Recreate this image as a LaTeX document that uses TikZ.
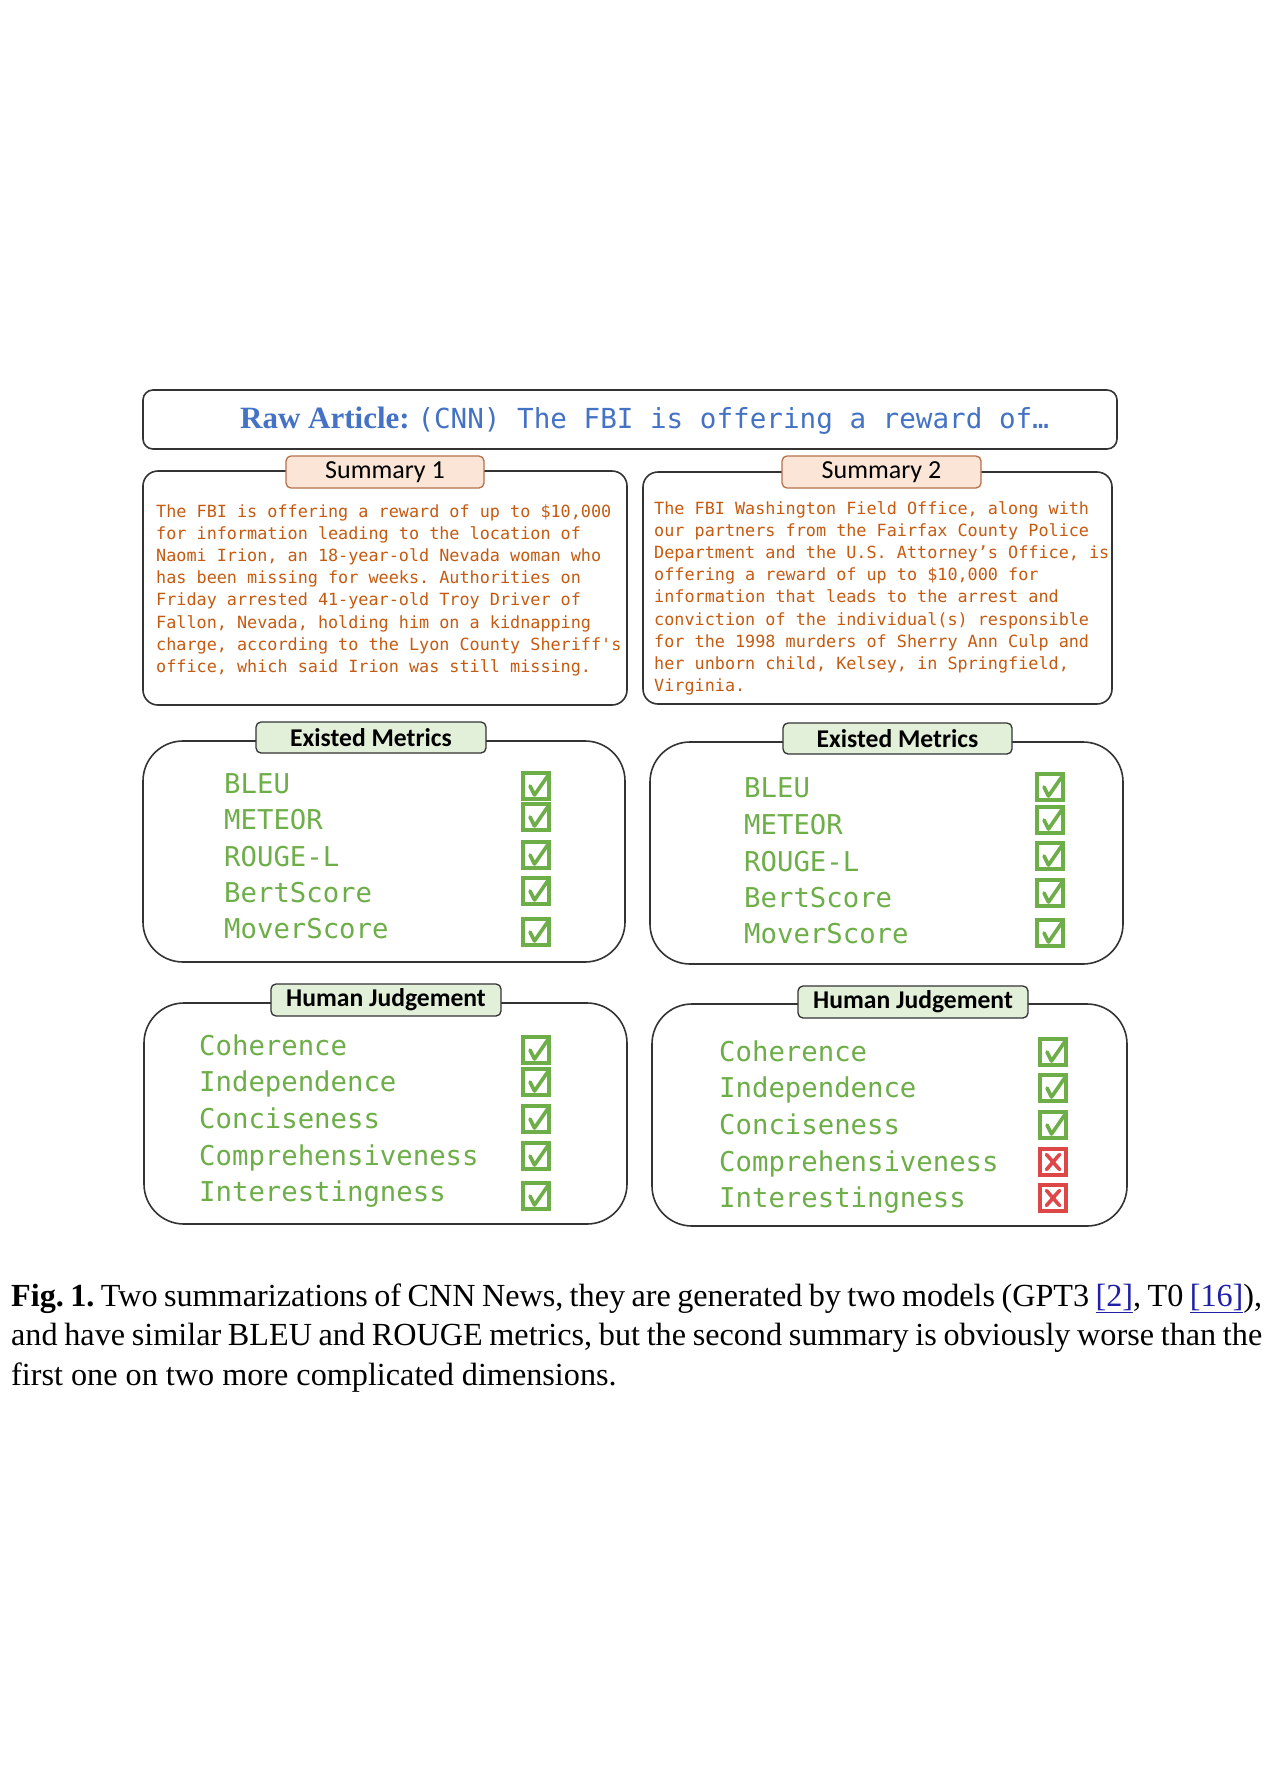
\documentclass[tikz,border=0pt]{standalone}
\usepackage{fontspec}
\setmainfont{Liberation Serif}
\newfontfamily\monof{DejaVu Sans Mono}[Ligatures=TeXOff]
\newfontfamily\tabfont{Carlito}
\usetikzlibrary{calc}
\definecolor{txtorange}{HTML}{C55A11}
\definecolor{okgreen}{HTML}{6DAE48}
\definecolor{titleblue}{HTML}{4472C4}
\definecolor{badred}{HTML}{DE4747}
\definecolor{peach}{HTML}{FBE5D6}
\definecolor{peachline}{HTML}{B4714A}
\definecolor{mint}{HTML}{E2F0D9}
\definecolor{frame}{HTML}{333333}
\definecolor{linkblue}{HTML}{1F1FA8}
\newcommand\lnk[1]{\textcolor{linkblue}{\underline{#1}}}
\newcommand\normspaces{\spaceskip=0pt \xspaceskip=0pt\relax}
\frenchspacing
\begin{document}
\begin{tikzpicture}[x=1pt,y=-1pt,
  panel/.style={draw=frame, line width=1.6pt, rounded corners=#1, inner sep=0pt, fill=white},
  tabA/.style={draw=peachline, fill=peach, line width=1.3pt, rounded corners=5pt, inner sep=0pt,
    font=\tabfont\fontsize{26}{26}\selectfont},
  tabB/.style={draw=frame, fill=mint, line width=1.3pt, rounded corners=5pt, inner sep=0pt,
    font=\tabfont\bfseries\fontsize{25.6}{25.6}\selectfont},
  sumtext/.style={anchor=base west, inner sep=0pt, text width=600pt, align=left,
    text=txtorange, font=\monof\fontsize{16.8}{22.2}\selectfont},
  item/.style={anchor=base west, inner sep=0pt, text=okgreen, font=\monof\fontsize{27.3}{27.3}\selectfont},
  chkbox/.style={draw=okgreen, line width=3.2pt, minimum size=26pt, inner sep=0pt},
  xbox/.style={draw=badred, line width=3.2pt, minimum size=26pt, inner sep=0pt},
  chkmark/.style={draw=okgreen, line width=3.6pt, line cap=round, line join=round},
  xmark/.style={draw=badred, line width=3.6pt, line cap=round}
]
\fill[white] (0,0) rectangle (1278,1782);
\useasboundingbox (0,0) rectangle (1278,1782);

% raw article
\node[panel=10pt, minimum width=974pt, minimum height=59pt] (raw) at (630,419.5) {};
\node[anchor=base west, inner sep=0pt, text=titleblue] (rawtxt) at (240,428)
  {{\fontsize{31}{31}\selectfont\bfseries Raw Article: }{\monof\fontsize{27.6}{27.6}\selectfont (CNN) The FBI is offering a reward of…}};

% summaries
\node[panel=15pt, minimum width=484pt, minimum height=234pt] (s1) at (385,588) {};
\node[tabA, minimum width=198pt, minimum height=32pt] (s1tab) at (385,472) {Summary 1};
\node[sumtext] (s1txt) at (156,517) {\normspaces The FBI is offering a reward of up to \$10,000\\
for information leading to the location of\\
Naomi Irion, an 18-year-old Nevada woman who\\
has been missing for weeks. Authorities on\\
Friday arrested 41-year-old Troy Driver of\\
Fallon, Nevada, holding him on a kidnapping\\
charge, according to the Lyon County Sheriff's\\
office, which said Irion was still missing.};

\node[panel=15pt, minimum width=469pt, minimum height=232pt] (s2) at (877.5,588) {};
\node[tabA, minimum width=199pt, minimum height=32pt] (s2tab) at (881.5,472) {Summary 2};
\node[sumtext] (s2txt) at (654,514) {\normspaces The FBI Washington Field Office, along with\\
our partners from the Fairfax County Police\\
Department and the U.S. Attorney’s Office, is\\
offering a reward of up to \$10,000 for\\
information that leads to the arrest and\\
conviction of the individual(s) responsible\\
for the 1998 murders of Sherry Ann Culp and\\
her unborn child, Kelsey, in Springfield,\\
Virginia.};

% existed metrics
\node[panel=40pt, minimum width=482pt, minimum height=221pt] (ml) at (384,851.5) {};
\node[tabB, minimum width=230pt, minimum height=31pt] (mltab) at (371,737.5) {Existed Metrics};
\node[panel=40pt, minimum width=473pt, minimum height=222pt] (mr) at (886.5,853) {};
\node[tabB, minimum width=229pt, minimum height=31pt] (mrtab) at (897.5,738.5) {Existed Metrics};

\foreach \t/\yb/\yc [count=\i] in {BLEU/793/786, METEOR/829/817, ROUGE-L/866/855, BertScore/902/891, MoverScore/938/932} {
  \node[item] (mlt\i) at (224,\yb) {\t};
  \node[chkbox] (mlc\i) at (536,\yc) {};
  \draw[chkmark] ($(mlc\i)+(-6,0)$) -- ($(mlc\i)+(-1.5,9)$) -- ($(mlc\i)+(13,-12)$);
}
\foreach \t/\yb/\yc [count=\i] in {BLEU/797/787, METEOR/834/820, ROUGE-L/871/856, BertScore/907/893, MoverScore/943/933} {
  \node[item] (mrt\i) at (744,\yb) {\t};
  \node[chkbox] (mrc\i) at (1050,\yc) {};
  \draw[chkmark] ($(mrc\i)+(-6,0)$) -- ($(mrc\i)+(-1.5,9)$) -- ($(mrc\i)+(13,-12)$);
}

% human judgement
\node[panel=40pt, minimum width=483pt, minimum height=221pt] (hl) at (385.5,1113.5) {};
\node[tabB, minimum width=230pt, minimum height=32pt] (hltab) at (386,1000) {Human Judgement};
\node[panel=40pt, minimum width=475pt, minimum height=222pt] (hr) at (889.5,1115) {};
\node[tabB, minimum width=230pt, minimum height=32pt] (hrtab) at (913,1002) {Human Judgement};

\foreach \t/\yb/\yc [count=\i] in {Coherence/1055/1050, Independence/1091/1082, Conciseness/1128/1119, Comprehensiveness/1165/1156, Interestingness/1201/1196} {
  \node[item] (hlt\i) at (199,\yb) {\t};
  \node[chkbox] (hlc\i) at (536,\yc) {};
  \draw[chkmark] ($(hlc\i)+(-6,0)$) -- ($(hlc\i)+(-1.5,9)$) -- ($(hlc\i)+(13,-12)$);
}
\foreach \t/\yb/\yc [count=\i] in {Coherence/1061/1052, Independence/1097/1088, Conciseness/1134/1125} {
  \node[item] (hrt\i) at (719,\yb) {\t};
  \node[chkbox] (hrc\i) at (1053,\yc) {};
  \draw[chkmark] ($(hrc\i)+(-6,0)$) -- ($(hrc\i)+(-1.5,9)$) -- ($(hrc\i)+(13,-12)$);
}
\foreach \t/\yb/\yc [count=\i from 4] in {Comprehensiveness/1171/1162, Interestingness/1207/1198} {
  \node[item] (hrt\i) at (719,\yb) {\t};
  \node[xbox] (hrc\i) at (1053,\yc) {};
  \draw[xmark] ($(hrc\i)+(-6.5,-7.5)$) -- ($(hrc\i)+(6.5,7.5)$)
               ($(hrc\i)+(6.5,-7.5)$) -- ($(hrc\i)+(-6.5,7.5)$);
}

% caption
\node[anchor=base west, inner sep=0pt, text width=1251pt, align=justify,
  font=\fontsize{32.2}{39.5}\selectfont] (cap) at (11,1306)
  {\textbf{Fig. 1.} Two summarizations of CNN News, they are generated by two models (GPT3 \lnk{[2]}, T0 \lnk{[16]}),\linebreak
  and have similar BLEU and ROUGE metrics, but the second summary is obviously worse than the\linebreak
  first one on two more complicated dimensions.};
\end{tikzpicture}
\end{document}
